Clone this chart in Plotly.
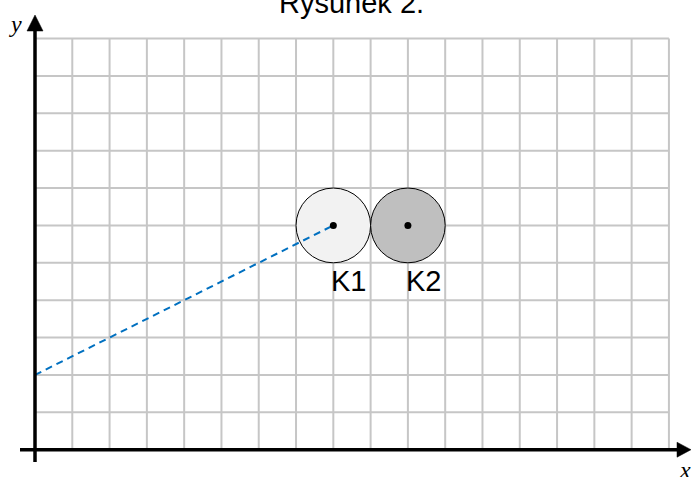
import plotly.graph_objects as go

# grid extent (in grid units)
grid_x = list(range(0, 18))   # vertical grid lines
grid_y = list(range(0, 12))   # horizontal grid lines

# circles: centres and radius
circle_names = ["K1", "K2"]
circle_cx = [8, 10]
circle_cy = [6, 6]
circle_r = [1, 1]
circle_fill = ["#f2f2f2", "#bfbfbf"]

# dashed line
line_x = [0, 8]
line_y = [2, 6]

title_text = "Rysunek 2."

W, H = 691, 477
# pixel mapping
px0, pyo = 35.0, 449.7
cw, ch = 37.29, 37.38
x_range = [(0 - px0) / cw, (W - px0) / cw]
y_range = [(pyo - H) / ch, (pyo - 0) / ch]

fig = go.Figure()
shapes = []
gx_max, gy_max = max(grid_x), max(grid_y)
for gx in grid_x:
    shapes.append(dict(type="line", xref="x", yref="y", x0=gx, x1=gx, y0=0, y1=gy_max,
                       line=dict(color="#c6c6c6", width=2), layer="below"))
for gy in grid_y:
    shapes.append(dict(type="line", xref="x", yref="y", x0=0, x1=gx_max, y0=gy, y1=gy,
                       line=dict(color="#c6c6c6", width=2), layer="below"))
for cx, cy, r, fc in zip(circle_cx, circle_cy, circle_r, circle_fill):
    shapes.append(dict(type="circle", xref="x", yref="y", x0=cx - r, x1=cx + r, y0=cy - r, y1=cy + r,
                       fillcolor=fc, line=dict(color="black", width=1), layer="below"))

# axes
x_tip = (W - px0) / cw
x_base = (677 - px0) / cw
y_tip = (pyo - 15) / ch
y_base = (pyo - 31) / ch
shapes.append(dict(type="line", xref="x", yref="y", x0=(20 - px0) / cw, x1=x_base, y0=0, y1=0,
                   line=dict(color="black", width=3.5)))
shapes.append(dict(type="line", xref="x", yref="y", x0=0, x1=0, y0=(pyo - 462) / ch, y1=y_base,
                   line=dict(color="black", width=3.5)))
hw_x = 8 / cw
hw_y = 7.5 / ch
shapes.append(dict(type="path", xref="x", yref="y",
                   path=f"M {-hw_x} {y_base} L 0 {y_tip} L {hw_x} {y_base} Z",
                   fillcolor="black", line=dict(color="black", width=0.5)))
shapes.append(dict(type="path", xref="x", yref="y",
                   path=f"M {x_base} {-hw_y} L {x_tip} 0 L {x_base} {hw_y} Z",
                   fillcolor="black", line=dict(color="black", width=0.5)))

fig.add_trace(go.Scatter(x=line_x, y=line_y, mode="lines",
                         line=dict(color="#0070c0", width=2, dash="7px,5px"),
                         hoverinfo="skip", showlegend=False))
fig.add_trace(go.Scatter(x=circle_cx, y=circle_cy, mode="markers",
                         marker=dict(color="black", size=7),
                         hoverinfo="skip", showlegend=False))

annotations = []
for name, cx, cy, r in zip(circle_names, circle_cx, circle_cy, circle_r):
    annotations.append(dict(x=cx - 0.11, y=cy - r - 0.5, xref="x", yref="y", text=name,
                            showarrow=False, xanchor="left", yanchor="middle",
                            font=dict(family="Liberation Sans, Arial", size=29, color="black")))
annotations.append(dict(x=(351 - px0) / cw, y=(pyo - 3) / ch, xref="x", yref="y", text=title_text,
                        showarrow=False, xanchor="center", yanchor="middle",
                        font=dict(family="Liberation Sans, Arial", size=29, color="black")))
annotations.append(dict(x=(15 - px0) / cw, y=(pyo - 24) / ch, xref="x", yref="y", text="<i>y</i>",
                        showarrow=False, xanchor="center", yanchor="middle",
                        font=dict(family="Liberation Serif, Times New Roman", size=24, color="black")))
annotations.append(dict(x=(685 - px0) / cw, y=(pyo - 470) / ch, xref="x", yref="y", text="<i>x</i>",
                        showarrow=False, xanchor="center", yanchor="middle",
                        font=dict(family="Liberation Serif, Times New Roman", size=24, color="black")))

fig.update_layout(
    width=W, height=H, margin=dict(l=0, r=0, t=0, b=0),
    paper_bgcolor="white", plot_bgcolor="white",
    xaxis=dict(range=x_range, visible=False, fixedrange=True),
    yaxis=dict(range=y_range, visible=False, fixedrange=True),
    shapes=shapes, annotations=annotations, showlegend=False,
)
fig.write_html("out.html",
               post_script="document.body.style.margin='0';document.body.style.overflow='hidden';",
               config={"displayModeBar": False})
